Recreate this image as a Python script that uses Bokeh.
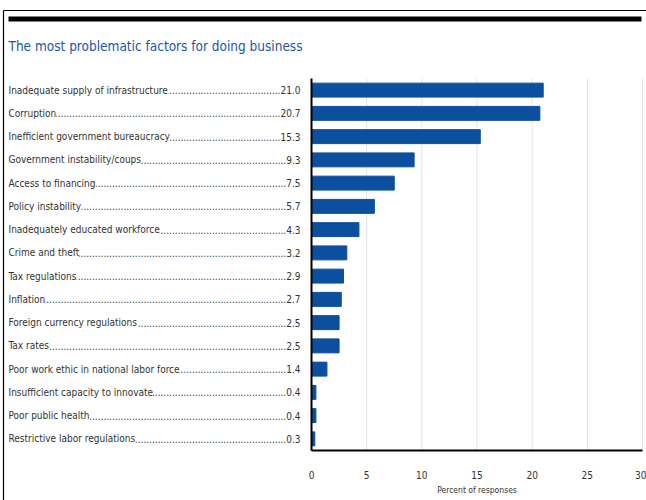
from bokeh.plotting import figure
from bokeh.models import ColumnDataSource, Range1d, FixedTicker
from bokeh.core.properties import value
from bokeh.embed import file_html
from bokeh.resources import INLINE

title_text = "The most problematic factors for doing business"
factors = [
    "Inadequate supply of infrastructure",
    "Corruption",
    "Inefficient government bureaucracy",
    "Government instability/coups",
    "Access to financing",
    "Policy instability",
    "Inadequately educated workforce",
    "Crime and theft",
    "Tax regulations",
    "Inflation",
    "Foreign currency regulations",
    "Tax rates",
    "Poor work ethic in national labor force",
    "Insufficient capacity to innovate",
    "Poor public health",
    "Restrictive labor regulations",
]
values = [21.0, 20.7, 15.3, 9.3, 7.5, 5.7, 4.3, 3.2, 2.9, 2.7, 2.5, 2.5, 1.4, 0.4, 0.4, 0.3]
x_ticks = [0, 5, 10, 15, 20, 25, 30]
x_title = "Percent of responses"

FONT = "DejaVu Sans Condensed"
BAR = "#0c4f9f"
TXT = "#333333"
TITLE_C = "#1d57a3"

# ---- layout (canvas pixels) ----
W, H = 646, 500
FL, FR, FT, FB = 311, 642, 78, 450          # plot area
XMAX = x_ticks[-1]
n = len(factors)
xpp = XMAX / (FR - FL)                      # data units per pixel (x)
ypp = n / (FB - FT)                         # category units per pixel (y)


def px_x(px):
    return (px - FL) * xpp


def px_y(py):
    return (py - FT) * ypp


ypos = [i + 0.5 for i in range(n)]
src = ColumnDataSource(dict(
    y=ypos, v=values, f=factors,
    lead=["." * 92 + f"{v:.1f}" for v in values],
))

p = figure(width=W, height=H, output_backend="svg", toolbar_location=None,
           x_range=Range1d(px_x(0), px_x(W)), y_range=Range1d(px_y(H), px_y(0)),
           min_border=0, min_border_left=0, min_border_right=0,
           min_border_top=0, min_border_bottom=0)
p.outline_line_color = None
p.background_fill_color = "white"
p.border_fill_color = "white"
p.xgrid.grid_line_color = None
p.ygrid.grid_line_color = None

# vertical grid lines inside the plot area, at the tick values
p.segment(x0=x_ticks[1:], x1=x_ticks[1:], y0=0, y1=n, line_color="#e4e4e4", line_width=1)

# bars
p.hbar(y="y", right="v", left=0, height=0.6, source=src, color=BAR)

# x axis (fixed at the bottom of the category band)
xa = p.xaxis[0]
xa.fixed_location = n
xa.bounds = (0, XMAX)
xa.ticker = FixedTicker(ticks=x_ticks)
xa.axis_line_color = "black"
xa.axis_line_width = 2
xa.major_tick_line_color = None
xa.minor_tick_line_color = None
xa.major_label_standoff = 14
xa.major_label_text_font = FONT
xa.major_label_text_font_size = "10px"
xa.major_label_text_color = TXT
xa.axis_label = x_title
xa.axis_label_text_font = FONT
xa.axis_label_text_font_style = "normal"
xa.axis_label_text_font_size = "8.5px"
xa.axis_label_text_color = TXT
xa.axis_label_standoff = 3

# y axis: plain line at x=0
ya = p.yaxis[0]
ya.fixed_location = 0
ya.bounds = (0, n)
ya.axis_line_color = "black"
ya.axis_line_width = 2
ya.major_tick_line_color = None
ya.minor_tick_line_color = None
ya.major_label_text_font_size = "0px"
ya.ticker = FixedTicker(ticks=[])

# dotted leaders with values, right-aligned near the axis
p.text(x=px_x(300), y="y", text="lead", source=src,
       text_font=value(FONT), text_font_size="10px", text_color=TXT,
       text_baseline="middle", text_align="right")
# category names covering the start of the leaders
p.text(x=px_x(8), y="y", text="f", source=src,
       text_font=value(FONT), text_font_size="10px", text_color=TXT,
       text_baseline="middle", text_align="left",
       background_fill_color="white")

# title
p.text(x=[px_x(8)], y=[px_y(45)], text=[title_text],
       text_font=value(FONT), text_font_size="13.5px", text_color=TITLE_C,
       text_baseline="middle", text_align="left")

# page decorations: thin border top/left, thick black rule
p.segment(x0=[px_x(3), px_x(3)], x1=[px_x(W), px_x(3)],
          y0=[px_y(10), px_y(10)], y1=[px_y(10), px_y(H)],
          line_color="black", line_width=1.2)
p.segment(x0=[px_x(8)], x1=[px_x(641)], y0=[px_y(18.5)], y1=[px_y(18.5)],
          line_color="black", line_width=5)

out = file_html(p, INLINE)
open("out.html", "w").write(out)
